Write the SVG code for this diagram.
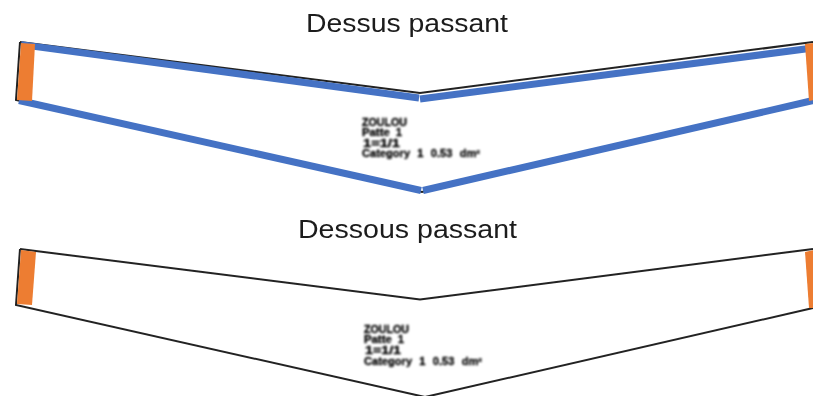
<svg xmlns="http://www.w3.org/2000/svg" width="813" height="396" viewBox="0 0 813 396">
<style>
.title{font-family:"Liberation Sans",Arial,sans-serif;font-size:26px;fill:#1a1a1a;filter:url(#soft)}
.small{font-family:"Liberation Sans",Arial,sans-serif;font-size:10px;font-weight:bold;fill:#000;stroke:#000;stroke-width:.3;filter:url(#softer)}
.outline{fill:none;stroke:#222;stroke-width:2;filter:url(#soft)}
.orange{fill:#ed7d31;filter:url(#soft)}
.blue{fill:none;stroke:#4472c4;stroke-width:7;filter:url(#soft)}
</style>
<defs>
<filter id="soft" x="-5%" y="-20%" width="110%" height="140%"><feGaussianBlur stdDeviation="0.6"/></filter>
<filter id="softer" x="-5%" y="-30%" width="110%" height="160%"><feGaussianBlur stdDeviation="0.8"/></filter>
</defs>
<rect width="813" height="396" fill="#fff"/>
<g id="top-piece">
<path class="outline" d="M20 42 L420 93 L813 42 M20 42 L16 100 L422 192 L813 100"/>
<path class="blue" d="M21 44.6 L419 98"/>
<path class="blue" d="M420 99 L813 48"/>
<path class="blue" d="M19 100.5 L421 190.500"/>
<path class="blue" d="M423 190.500 L813 100.500"/>
<polygon class="orange" points="21,43 35,44 32,101 17,100"/>
<polygon class="orange" points="805,44 814,43 814,100 809,101"/>
<text class="small" x="362" y="125.500" textLength="45" lengthAdjust="spacingAndGlyphs">ZOULOU</text>
<text class="small" x="362" y="135.500" textLength="40" lengthAdjust="spacingAndGlyphs" word-spacing="2.500">Patte 1</text>
<text class="small" x="363" y="146.500" textLength="37" lengthAdjust="spacingAndGlyphs">1=1/1</text>
<text class="small" x="362" y="157" textLength="118" lengthAdjust="spacingAndGlyphs" word-spacing="3.800">Category 1 0.53 dm²</text>
</g>
<g id="bottom-piece">
<path class="outline" d="M20 249 L420 299.500 L813 249 M20 249 L16 305 L425 397 L813 308"/>
<polygon class="orange" points="21,250 36,252 32,305 17,304"/>
<polygon class="orange" points="805,252 814,250 814,308 809,308"/>
<text class="small" x="364" y="332.500" textLength="45" lengthAdjust="spacingAndGlyphs">ZOULOU</text>
<text class="small" x="364" y="343" textLength="40" lengthAdjust="spacingAndGlyphs" word-spacing="2.500">Patte 1</text>
<text class="small" x="365" y="353.500" textLength="36" lengthAdjust="spacingAndGlyphs">1=1/1</text>
<text class="small" x="364" y="365" textLength="118" lengthAdjust="spacingAndGlyphs" word-spacing="3.800">Category 1 0.53 dm²</text>
</g>
<text class="title" x="306" y="32" textLength="202" lengthAdjust="spacingAndGlyphs">Dessus passant</text>
<text class="title" x="298" y="238" textLength="219" lengthAdjust="spacingAndGlyphs">Dessous passant</text>
</svg>
